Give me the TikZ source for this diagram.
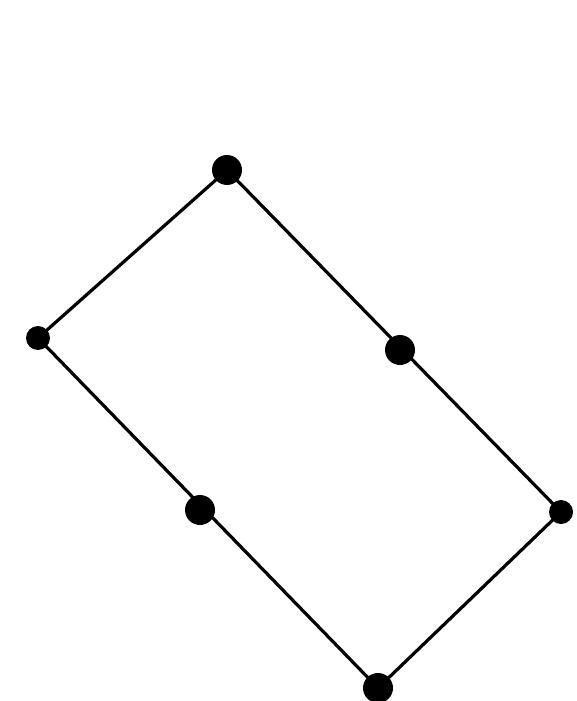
\documentclass[tikz,border=0pt]{standalone}
\begin{document}
\begin{tikzpicture}[x=1pt,y=-1pt,
  edge/.style={line width=3.2pt},
  bigdot/.style={circle,fill=black,inner sep=0pt,minimum size=30pt},
  smalldot/.style={circle,fill=black,inner sep=0pt,minimum size=24pt}]
\useasboundingbox (0,0) rectangle (577,701);
\coordinate (A) at (227,170);
\coordinate (B) at (38,338);
\coordinate (C) at (378,688);
\coordinate (D) at (561,512);
\coordinate (M1) at (400,350);
\coordinate (M2) at (200,510);
\draw[edge,line join=round] (A) -- (B) -- (C) -- (D) -- cycle;
\node[bigdot] (nA) at (A) {};
\node[smalldot] (nB) at (B) {};
\node[bigdot] (nC) at (C) {};
\node[smalldot] (nD) at (D) {};
\node[bigdot] (nM1) at (M1) {};
\node[bigdot] (nM2) at (M2) {};
\end{tikzpicture}
\end{document}
